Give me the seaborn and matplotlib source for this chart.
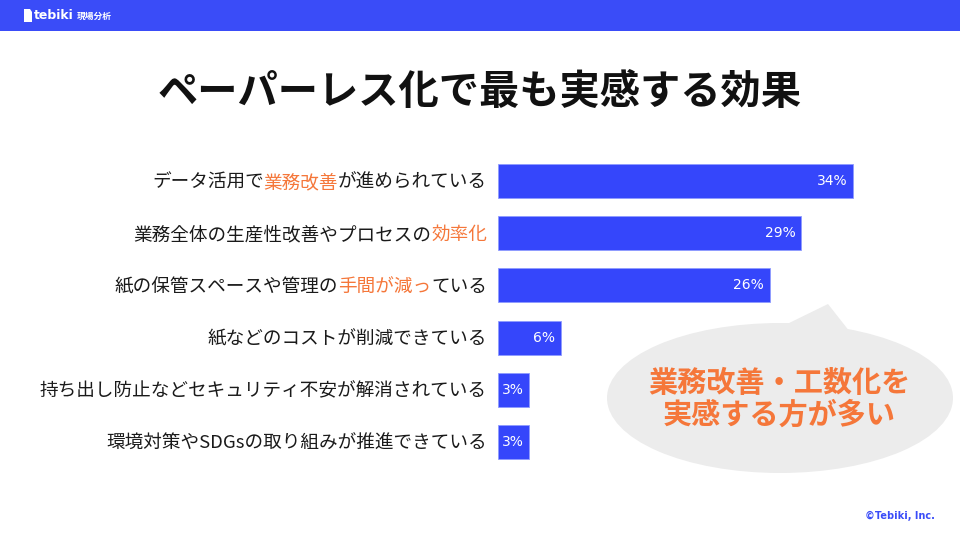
import matplotlib
matplotlib.use("Agg")
import matplotlib.pyplot as plt
import seaborn as sns
import pandas as pd
from matplotlib.patches import Ellipse, Polygon, Rectangle

categories = [
    "データ活用で業務改善が進められている",
    "業務全体の生産性改善やプロセスの効率化",
    "紙の保管スペースや管理の手間が減っている",
    "紙などのコストが削減できている",
    "持ち出し防止などセキュリティ不安が解消されている",
    "環境対策やSDGsの取り組みが推進できている",
]
highlights = [["業務改善"], ["効率化"], ["手間が減っ"], [], [], []]
values = [34, 29, 26, 6, 3, 3]
value_labels = ["34%", "29%", "26%", "6%", "3%", "3%"]
title = "ペーパーレス化で最も実感する効果"
bubble_lines = ["業務改善・工数化を", "実感する方が多い"]

sns.set_theme(style="white")
plt.rcParams["font.family"] = ["Noto Sans CJK JP", "DejaVu Sans"]

BLUE = "#3546fb"
ORANGE = "#f5773a"
DARK = "#1a1a1a"

fig = plt.figure(figsize=(9.6, 5.4), dpi=100)
fig.patch.set_facecolor("white")

# header band
fig.patches.append(Rectangle((0, 1 - 31 / 540), 1, 31 / 540, transform=fig.transFigure,
                             facecolor="#3a4cf8", edgecolor="none", zorder=0))
fig.patches.append(Polygon([[24 / 960, 1 - 9 / 540], [30 / 960, 1 - 9 / 540], [32 / 960, 1 - 12 / 540],
                            [32 / 960, 1 - 22 / 540], [24 / 960, 1 - 22 / 540]],
                           closed=True, transform=fig.transFigure, facecolor="white",
                           edgecolor="none", zorder=1))
fig.text(34 / 960, 1 - 15.5 / 540, "tebiki", color="white", fontsize=9, fontweight="bold",
         va="center", ha="left", family=["DejaVu Sans"])
fig.text(77 / 960, 1 - 16 / 540, "現場分析", color="white", fontsize=6.3, fontweight="bold",
         va="center", ha="left")

# title
fig.text(480 / 960, 1 - 92 / 540, title, fontsize=29, fontweight="bold", color="#111111",
         ha="center", va="center")

# bars
df = pd.DataFrame({"category": categories, "value": values})
ax = fig.add_axes([498 / 960, 72 / 540, 441 / 960, 313 / 540])
sns.barplot(data=df, x="value", y="category", orient="h", color=BLUE, saturation=1,
            width=0.65, ax=ax, edgecolor="#8f9bff", linewidth=0.6)
ax.set_xlim(0, 42.2)
ax.set_ylim(5.5, -0.5)
ax.set_xlabel("")
ax.set_ylabel("")
ax.set_xticks([])
ax.set_yticks([])
for s in ax.spines.values():
    s.set_visible(False)
ax.patch.set_alpha(0)

# value labels
for i, (v, lab) in enumerate(zip(values, value_labels)):
    ax.annotate(lab, xy=(v, i), xytext=(-4, 0), textcoords="offset points",
                ha="right", va="center", color="white", fontsize=10,
                family=["DejaVu Sans"])

# category labels with highlighted parts
def split_parts(text, hl):
    parts = []
    rest = text
    while rest:
        idxs = [(rest.find(h), h) for h in hl if rest.find(h) >= 0]
        if not idxs:
            parts.append((rest, False))
            break
        pos, h = min(idxs)
        if pos > 0:
            parts.append((rest[:pos], False))
        parts.append((h, True))
        rest = rest[pos + len(h):]
    return parts

LABEL_FS = 13.4
EM = LABEL_FS * fig.dpi / 72.0  # full-width glyph advance in pixels
ax_left_px = ax.transAxes.transform((0, 0))[0]
right_px = ax_left_px - 11
fw, fh = fig.bbox.width, fig.bbox.height
for i, (cat, hl) in enumerate(zip(categories, highlights)):
    y_px = ax.transData.transform((0, i))[1]
    parts = split_parts(cat, hl)
    if len(parts) == 1:
        fig.text(right_px / fw, y_px / fh, cat, fontsize=LABEL_FS, color=DARK,
                 ha="right", va="center_baseline")
        continue
    after = len(cat)
    for seg, h in parts:
        after -= len(seg)
        x_px = right_px - after * EM
        fig.text(x_px / fw, y_px / fh, seg, fontsize=LABEL_FS,
                 color=ORANGE if h else DARK, ha="right", va="center_baseline")

# speech bubble
bub = fig.add_axes([0, 0, 1, 1], zorder=5)
bub.set_xlim(0, 960)
bub.set_ylim(540, 0)
bub.axis("off")
bub.patch.set_alpha(0)
bub.add_patch(Polygon([[785, 325], [828, 304], [850, 332]], closed=True,
                      facecolor="#ececec", edgecolor="none"))
bub.add_patch(Ellipse((780, 398), 346, 150, facecolor="#ececec", edgecolor="none"))
bub.text(779, 383, bubble_lines[0], fontsize=21, fontweight="bold", color=ORANGE,
         ha="center", va="center")
bub.text(779, 415, bubble_lines[1], fontsize=21, fontweight="bold", color=ORANGE,
         ha="center", va="center")

# copyright
fig.text(935 / 960, 1 - 516 / 540, "©Tebiki, Inc.", fontsize=7, fontweight="bold",
         color="#3a4cf8", ha="right", va="center", family=["DejaVu Sans"])

fig.savefig("out.png", dpi=100)
